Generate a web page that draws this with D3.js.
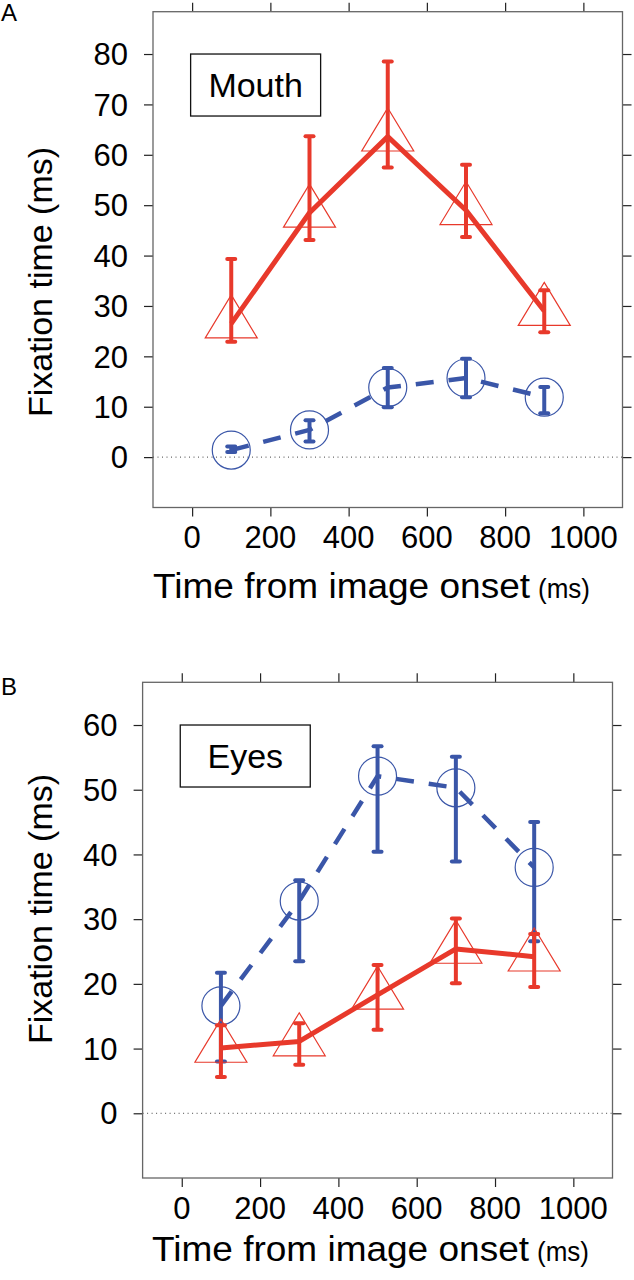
<!DOCTYPE html>
<html>
<head>
<meta charset="utf-8">
<script src="https://cdn.jsdelivr.net/npm/d3@7"></script>
<style>
  html, body { margin: 0; padding: 0; background: #fff; }
  svg { display: block; }
  text { font-family: "Liberation Sans", Arial, Helvetica, sans-serif; fill: #000; }
</style>
</head>
<body>
<svg id="chart" width="634" height="1280"></svg>
<script>
// ---------- data ----------
const timePoints = [100, 300, 500, 700, 900];
const xTickValues = [0, 200, 400, 600, 800, 1000];
const yTicksA = [0, 10, 20, 30, 40, 50, 60, 70, 80];
const yTicksB = [0, 10, 20, 30, 40, 50, 60];

// Panel A: Mouth
const mouthRedMean = [26.5, 48.5, 63.6, 49.0, 29.0];
const mouthRedLo   = [22.9, 43.1, 57.5, 43.7, 24.8];
const mouthRedHi   = [39.3, 63.7, 78.5, 58.0, 33.1];
const mouthBlueMean = [1.4, 5.4, 13.8, 15.7, 11.9];
const mouthBlueLo   = [1.0, 3.1, 9.9, 11.9, 8.7];
const mouthBlueHi   = [2.1, 7.3, 17.7, 19.5, 13.9];

// Panel B: Eyes
const eyesBlueMean = [16.6, 32.8, 52.1, 50.3, 38.0];
const eyesBlueLo   = [8.0, 23.5, 40.4, 38.9, 26.6];
const eyesBlueHi   = [21.7, 36.0, 56.7, 55.1, 45.0];
const eyesRedMean = [10.1, 11.1, 18.3, 25.4, 24.2];
const eyesRedLo   = [5.6, 7.5, 12.9, 20.1, 19.5];
const eyesRedHi   = [13.6, 13.9, 22.9, 30.1, 27.7];

// ---------- style ----------
const RED = "#e8392b";
const BLUE = "#3a56a8";
const svg = d3.select("#chart");

function series(mean, lo, hi) {
  return timePoints.map((t, i) => ({ t, m: mean[i], lo: lo[i], hi: hi[i] }));
}

function drawPanel(cfg) {
  const x = d3.scaleLinear().domain([-100, 1100]).range([cfg.left, cfg.right]);
  const y = d3.scaleLinear().domain(cfg.yDomain).range([cfg.bottom, cfg.top]);
  const g = svg.append("g");

  // zero reference line (dotted)
  g.append("line")
    .attr("x1", cfg.left).attr("x2", cfg.right)
    .attr("y1", y(0)).attr("y2", y(0))
    .attr("stroke", "#444").attr("stroke-width", 1)
    .attr("stroke-dasharray", "1,3.5");

  // axes (all four sides, outward ticks)
  const tickLen = 9;
  const axB = g.append("g").attr("transform", `translate(0,${cfg.bottom})`)
    .call(d3.axisBottom(x).tickValues(xTickValues).tickSize(tickLen).tickSizeOuter(0).tickFormat(""));
  const axT = g.append("g").attr("transform", `translate(0,${cfg.top})`)
    .call(d3.axisTop(x).tickValues(xTickValues).tickSize(tickLen).tickSizeOuter(0).tickFormat(""));
  const axL = g.append("g").attr("transform", `translate(${cfg.left},0)`)
    .call(d3.axisLeft(y).tickValues(cfg.yTicks).tickSize(tickLen).tickSizeOuter(0).tickFormat(""));
  const axR = g.append("g").attr("transform", `translate(${cfg.right},0)`)
    .call(d3.axisRight(y).tickValues(cfg.yTicks).tickSize(tickLen).tickSizeOuter(0).tickFormat(""));
  [axB, axT, axL, axR].forEach(a => {
    a.select(".domain").remove();
    a.selectAll(".tick line").attr("stroke", "#222").attr("stroke-width", 1.2);
  });

  // frame
  g.append("rect")
    .attr("x", cfg.left).attr("y", cfg.top)
    .attr("width", cfg.right - cfg.left).attr("height", cfg.bottom - cfg.top)
    .attr("fill", "none").attr("stroke", "#666").attr("stroke-width", 1.3);

  // tick labels
  g.append("g").selectAll("text").data(xTickValues).join("text")
    .attr("x", d => x(d)).attr("y", cfg.xLabelBaseline)
    .attr("text-anchor", "middle").attr("font-size", 31)
    .text(d => d);
  g.append("g").selectAll("text").data(cfg.yTicks).join("text")
    .attr("x", cfg.left - 25).attr("y", d => y(d)).attr("dy", "0.36em")
    .attr("text-anchor", "end").attr("font-size", 31)
    .text(d => d);

  // axis titles
  g.append("text")
    .attr("x", cfg.xTitleX).attr("y", cfg.xTitleBaseline)
    .attr("font-size", 35)
    .attr("textLength", 377).attr("lengthAdjust", "spacingAndGlyphs")
    .text("Time from image onset");
  g.append("text")
    .attr("x", cfg.xTitleX + 385).attr("y", cfg.xTitleBaseline)
    .attr("font-size", 28)
    .attr("textLength", 52).attr("lengthAdjust", "spacingAndGlyphs")
    .text("(ms)");

  g.append("text")
    .attr("transform", `translate(${cfg.yTitleX},${cfg.yTitleY}) rotate(-90)`)
    .attr("text-anchor", "middle").attr("font-size", 34)
    .text("Fixation time (ms)");

  // panel letter
  g.append("text").attr("x", 1).attr("y", cfg.letterBaseline)
    .attr("font-size", 24).text(cfg.letter);

  // legend box
  const bx = x(0) - 1.5, by = y(cfg.legendTop);
  g.append("rect").attr("x", bx).attr("y", by).attr("width", 130).attr("height", 62)
    .attr("fill", "#fff").attr("stroke", "#111").attr("stroke-width", 1.3);
  g.append("text").attr("x", bx + 65).attr("y", by + 43)
    .attr("text-anchor", "middle").attr("font-size", 34).text(cfg.legend);

  // series drawing
  function drawSeries(data, color, kind) {
    const line = d3.line().x(d => x(d.t)).y(d => y(d.m));
    const s = g.append("g");
    if (kind === "circle") {
      s.selectAll("circle").data(data).join("circle")
        .attr("cx", d => x(d.t)).attr("cy", d => y(d.m)).attr("r", 19)
        .attr("fill", "none").attr("stroke", color).attr("stroke-width", 1.2);
    } else {
      const h = 43, w = 52;
      s.selectAll("path.tri").data(data).join("path").attr("class", "tri")
        .attr("d", d => {
          const cx = x(d.t), cy = y(d.m);
          return `M${cx},${cy - 2 * h / 3} L${cx + w / 2},${cy + h / 3} L${cx - w / 2},${cy + h / 3} Z`;
        })
        .attr("fill", "none").attr("stroke", color).attr("stroke-width", 1.2);
    }
    s.append("path").datum(data).attr("d", line)
      .attr("fill", "none").attr("stroke", color)
      .attr("stroke-width", kind === "circle" ? 4.5 : 5)
      .attr("stroke-dasharray", kind === "circle" ? "18,15" : null)
      .attr("stroke-linejoin", "round");
    s.selectAll("line.eb").data(data).join("line").attr("class", "eb")
      .attr("x1", d => x(d.t)).attr("x2", d => x(d.t))
      .attr("y1", d => y(d.lo)).attr("y2", d => y(d.hi))
      .attr("stroke", color).attr("stroke-width", 4);
    const caps = [];
    data.forEach(d => { caps.push({ t: d.t, v: d.lo }); caps.push({ t: d.t, v: d.hi }); });
    s.selectAll("line.cap").data(caps).join("line").attr("class", "cap")
      .attr("x1", d => x(d.t) - 4).attr("x2", d => x(d.t) + 4)
      .attr("y1", d => y(d.v)).attr("y2", d => y(d.v))
      .attr("stroke", color).attr("stroke-width", 4).attr("stroke-linecap", "round");
  }
  drawSeries(cfg.blue, BLUE, "circle");
  drawSeries(cfg.red, RED, "triangle");
}

drawPanel({
  letter: "A", letterBaseline: 21,
  left: 153, right: 622.5, top: 11.7, bottom: 507.5,
  yDomain: [-10, 88.4], yTicks: yTicksA,
  xLabelBaseline: 548, xTitleX: 153, xTitleBaseline: 598,
  yTitleX: 52, yTitleY: 282,
  legend: "Mouth", legendTop: 80,
  red: series(mouthRedMean, mouthRedLo, mouthRedHi),
  blue: series(mouthBlueMean, mouthBlueLo, mouthBlueHi)
});

drawPanel({
  letter: "B", letterBaseline: 695,
  left: 142.6, right: 612.5, top: 682.3, bottom: 1178,
  yDomain: [-10, 66.6], yTicks: yTicksB,
  xLabelBaseline: 1219, xTitleX: 152, xTitleBaseline: 1261,
  yTitleX: 52, yTitleY: 909,
  legend: "Eyes", legendTop: 60,
  red: series(eyesRedMean, eyesRedLo, eyesRedHi),
  blue: series(eyesBlueMean, eyesBlueLo, eyesBlueHi)
});
</script>
</body>
</html>
